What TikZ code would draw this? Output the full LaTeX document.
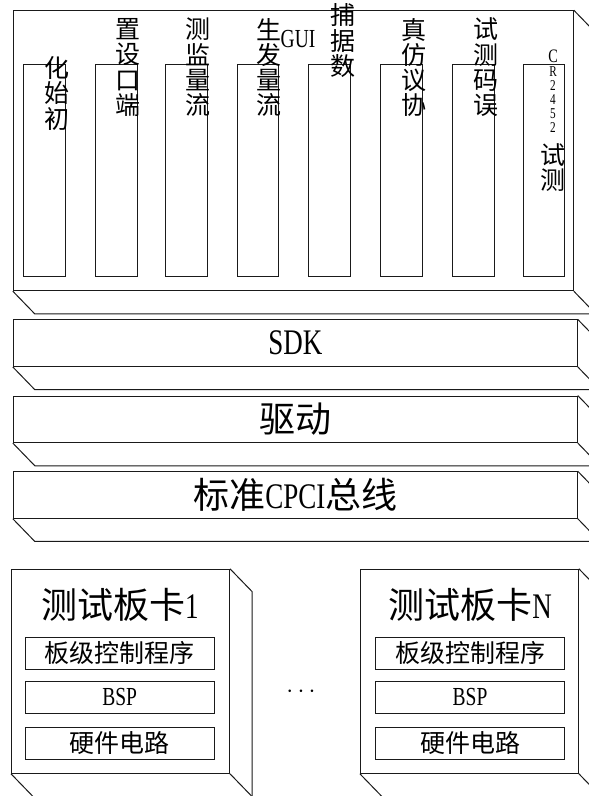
\documentclass[tikz,border=0pt]{standalone}
\usepackage{fontspec}
\setmainfont{Liberation Serif}
\newfontfamily\cjk{Noto Sans CJK SC}
\newfontfamily\lat{Liberation Serif}[FakeStretch=0.75]
\usetikzlibrary{calc}
\definecolor{linecol}{HTML}{1A1A1A}
\tikzset{
  edge/.style={draw=linecol, line width=1pt},
  face/.style={draw=linecol, line width=1pt, fill=white, inner sep=0pt},
  colbox/.style={draw=linecol, line width=0.9pt, minimum width=41.5pt, minimum height=212pt, inner sep=0pt},
  vtext/.style={font=\cjk\fontsize{25}{25.3}\selectfont, align=center, inner sep=0pt},
  layer/.style={face, minimum width=564pt, minimum height=46.5pt, font=\cjk\fontsize{36}{36}\selectfont},
  card/.style={face, minimum width=218pt, minimum height=204pt},
  inbox/.style={draw=linecol, line width=0.9pt, inner sep=0pt, minimum width=188.5pt, minimum height=31.8pt, font=\cjk\fontsize{25}{25}\selectfont},
  ctitle/.style={inner sep=0pt, font=\cjk\fontsize{36}{36}\selectfont},
  small/.style={inner sep=0pt, font=\lat\fontsize{15}{15}\selectfont}
}
\newcommand\cubeback[1]{%
  \draw[edge] (#1.south west) -- ++(22,22.7) -- ($(#1.south east)+(22,22.7)$) -- ($(#1.north east)+(22,22.7)$) -- (#1.north east);
  \draw[edge] (#1.south east) -- ++(22,22.7);}
\begin{document}
\begin{tikzpicture}[x=1pt,y=-1pt]
\useasboundingbox (0,0) rectangle (589,796);
\clip (0,0) rectangle (589,796);
\fill[white] (0,0) rectangle (589,796);

% top GUI box
\node[face, minimum width=560pt, minimum height=280pt] (top) at (293.3,150.7) {};
\cubeback{top}
\foreach \i/\x in {1/44.2,2/116.2,3/186.4,4/257.7,5/329.5,6/401.2,7/473.2,8/543.7}
  \node[colbox] (col\i) at (\x,170) {};
\node[vtext] (c1t) at (57.5,93.5) {化\\始\\初};
\node[vtext] (c2t) at (128,67.5) {置\\设\\口\\端};
\node[vtext] (c3t) at (197.5,67.5) {测\\监\\量\\流};
\node[vtext] (c4t) at (269,67.5) {生\\发\\量\\流};
\node[inner sep=0pt, font=\lat\fontsize{26}{26}\selectfont] (gui) at (298,39) {GUI};
\node[vtext] (c5t) at (343.3,40.7) {捕\\据\\数};
\node[vtext] (c6t) at (414,67.5) {真\\仿\\议\\协};
\node[vtext] (c7t) at (486,67.5) {试\\测\\码\\误};
\node[inner sep=0pt, font=\lat\fontsize{19}{19}\selectfont] (c8a) at (553,56) {C};
\node[small] (c8b) at (553,72) {R};
\node[small] (c8c) at (553,86) {2};
\node[small] (c8d) at (553,100) {4};
\node[small] (c8e) at (553,114) {5};
\node[small] (c8f) at (553,128) {2};
\node[vtext] (c8g) at (553,167.5) {试\\测};

% layers
\node[layer] (sdk) at (295.3,343.2) {\lat SDK};
\cubeback{sdk}
\node[layer] (drv) at (295.3,419.3) {驱动};
\cubeback{drv}
\node[layer] (bus) at (295.3,495) {标准{\lat CPCI}总线};
\cubeback{bus}

% cards
\node[card] (card1) at (120.5,671.3) {};
\cubeback{card1}
\node[ctitle] (t1) at (120,605) {测试板卡{\lat 1}};
\node[inbox] (a1) at (119.7,653.2) {板级控制程序};
\node[inbox, font=\lat\fontsize{26}{26}\selectfont] (b1) at (119.7,697.3) {BSP};
\node[inbox] (h1) at (119.7,743.2) {硬件电路};

\node[card] (cardn) at (469.4,671.3) {};
\cubeback{cardn}
\node[ctitle] (tn) at (470,605) {测试板卡{\lat N}};
\node[inbox] (an) at (470,653.2) {板级控制程序};
\node[inbox, font=\lat\fontsize{26}{26}\selectfont] (bn) at (470,697.3) {BSP};
\node[inbox] (hn) at (470,743.2) {硬件电路};

\node[inner sep=0pt, font=\fontsize{33}{33}\selectfont] (dots) at (301,692) {$\cdots$};
\end{tikzpicture}
\end{document}
